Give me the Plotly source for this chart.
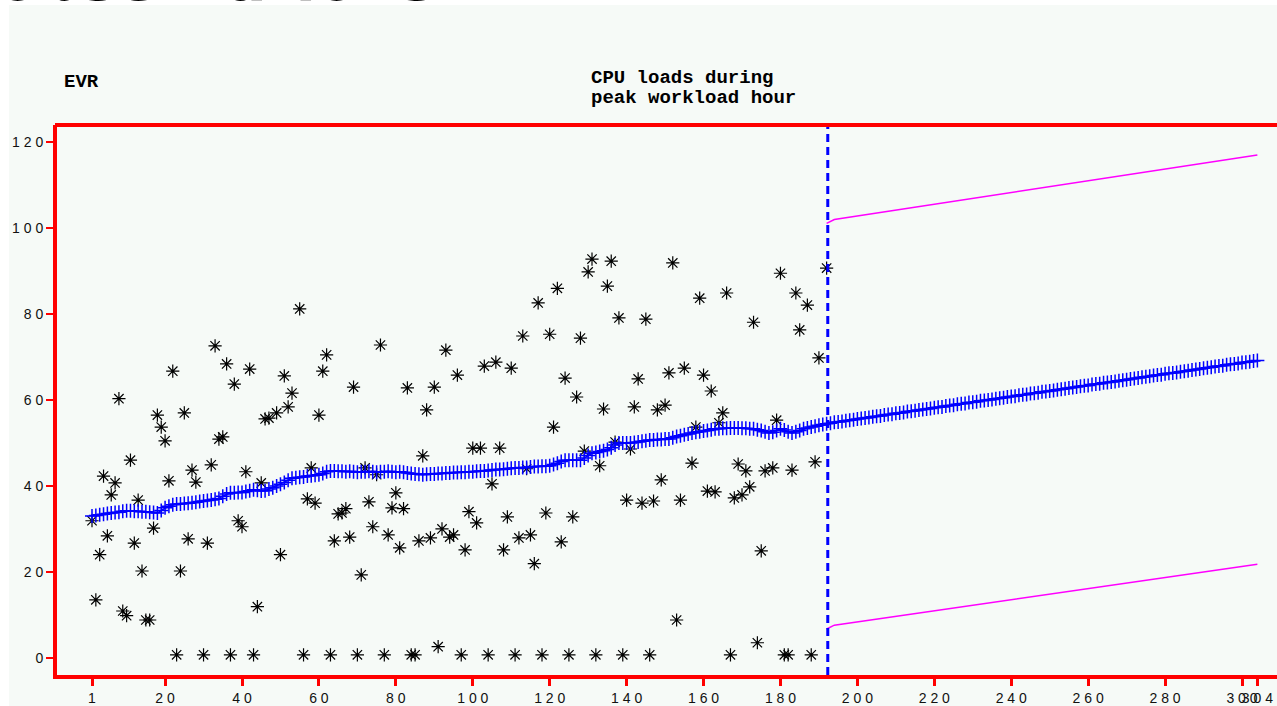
import plotly.graph_objects as go

# ---------------- data ----------------
obs_time = [1,2,3,4,5,6,7,8,9,10,11,12,13,14,15,16,17,18,19,20,21,22,23,24,25,26,27,28,30,31,
            32,33,34,35,36,37,38,39,40,41,42,43,44,45,46,47,49,50,51,52,53,55,56,57,58,59,60,61,
            62,63,64,65,66,67,68,69,70,71,72,73,74,75,76,77,78,79,80,81,82,83,84,85,86,87,88,89,
            90,91,92,93,94,95,96,97,98,99,100,101,102,103,104,105,106,107,108,109,110,111,112,113,
            114,115,116,117,118,119,120,121,122,123,124,125,126,127,128,129,130,131,132,133,134,
            135,136,137,138,139,140,141,142,143,144,145,146,147,148,149,150,151,152,153,154,155,
            157,158,159,160,161,162,163,164,165,166,167,168,169,170,171,172,173,174,175,176,178,
            179,180,181,182,183,184,185,187,188,189,190,192]
obs_cpu = [31.9,13.5,24.0,42.3,28.4,37.9,40.7,60.3,10.9,9.8,46.0,26.7,36.7,20.2,8.8,8.8,30.2,56.5,53.7,50.5,
           41.2,66.7,0.7,20.2,57.0,27.7,43.7,40.9,0.7,26.7,
           44.9,72.6,50.9,51.4,68.4,0.7,63.7,31.9,30.5,43.3,67.2,0.7,11.9,40.7,55.6,55.8,57.0,24.0,65.6,58.4,
           61.6,81.2,0.7,37.0,44.2,36.0,56.5,66.7,
           70.5,0.7,27.2,33.5,33.7,34.7,28.1,63.0,0.7,19.3,44.2,36.3,30.5,42.6,72.8,0.7,28.6,34.9,38.4,25.6,
           34.7,62.8,0.7,0.7,27.2,47.0,57.7,27.9,
           63.0,2.6,30.0,71.6,28.1,28.6,65.8,0.7,25.1,34.0,48.8,31.4,48.8,67.9,0.7,40.5,68.8,48.8,25.1,32.8,
           67.4,0.7,27.9,74.9,
           44.0,28.6,21.9,82.6,0.7,33.7,75.3,53.7,86.0,27.0,65.1,0.7,32.8,60.7,74.4,48.1,89.8,92.8,0.7,44.7,57.9,
           86.5,92.3,50.2,79.1,0.7,36.7,48.6,58.4,64.9,36.0,78.8,0.7,36.5,57.7,41.4,58.8,66.3,91.9,8.8,36.7,67.4,
           45.3,53.7,83.7,65.8,38.8,62.1,38.6,54.7,57.0,84.9,0.7,37.2,45.1,37.9,43.5,39.8,78.1,3.5,24.9,43.5,44.2,
           55.3,89.5,0.7,0.7,43.7,84.9,76.3,82.1,0.7,45.6,69.8,90.7]

fit_hist = [33.0,33.1,33.3,33.4,33.6,33.7,33.8,33.9,34.1,34.2,
            34.2,34.1,34.1,34.0,34.0,33.9,33.8,33.7,34.3,34.9,
            35.3,35.6,35.8,35.8,35.9,36.0,36.1,36.2,36.4,36.5,
            36.6,36.7,36.9,37.1,37.6,38.1,38.4,38.4,38.5,38.5,
            38.7,38.9,39.1,39.0,38.8,38.9,39.3,39.6,40.0,40.4,
            40.8,41.3,41.8,41.9,42.0,42.1,42.3,42.4,42.5,42.6,
            42.9,43.3,43.5,43.5,43.4,43.4,43.3,43.4,43.3,43.2,
            43.3,43.3,43.4,43.3,43.2,43.3,43.3,43.4,43.3,43.2,
            43.3,43.2,43.0,42.9,42.8,42.7,42.6,42.7,42.8,42.8,
            42.9,42.9,43.0,43.0,43.1,43.1,43.2,43.2,43.3,43.3,
            43.4,43.5,43.5,43.6,43.7,43.8,43.8,43.9,44.0,44.1,
            44.2,44.2,44.3,44.3,44.4,44.5,44.5,44.6,44.6,44.7,
            45.0,45.3,45.7,46.0,46.0,46.0,46.0,46.0,46.5,47.1,
            47.6,47.8,48.0,48.2,48.5,48.9,49.5,50.0,50.0,50.0,
            50.0,50.1,50.2,50.4,50.5,50.7,50.7,50.8,50.8,50.9,
            50.9,51.2,51.5,51.7,51.9,52.1,52.3,52.5,52.6,52.8,
            52.9,53.1,53.3,53.3,53.4,53.4,53.5,53.5,53.5,53.4,
            53.4,53.3,53.3,53.1,52.9,52.6,52.3,52.5,52.9,53.3,
            53.0,52.6,52.3,52.6,52.9,53.3,53.5,53.7,53.9,54.1,
            54.3,54.5]
fit_fore = [54.6,54.8,54.9,55.0,55.2,55.3,55.4,55.6,55.7,55.8,
            55.9,56.1,56.2,56.3,56.5,56.6,56.7,56.9,57.0,57.1,
            57.3,57.4,57.5,57.7,57.8,57.9,58.0,58.2,58.3,58.4,
            58.6,58.7,58.8,59.0,59.1,59.2,59.4,59.5,59.6,59.8,
            59.9,60.0,60.1,60.3,60.4,60.5,60.7,60.8,60.9,61.1,
            61.2,61.3,61.5,61.6,61.7,61.9,62.0,62.1,62.2,62.4,
            62.5,62.6,62.8,62.9,63.0,63.2,63.3,63.4,63.6,63.7,
            63.8,64.0,64.1,64.2,64.3,64.5,64.6,64.7,64.9,65.0,
            65.1,65.3,65.4,65.5,65.7,65.8,65.9,66.1,66.2,66.3,
            66.4,66.6,66.7,66.8,67.0,67.1,67.2,67.4,67.5,67.6,
            67.8,67.9,68.0,68.2,68.3,68.4,68.5,68.7,68.8,68.9,
            69.1,69.2]
fit_time = list(range(1, len(fit_hist) + len(fit_fore) + 1))
fit_cpu = fit_hist + fit_fore

limit_time = [192, 194, 304]
upper_cpu = [101.1, 102.0, 117.0]
lower_cpu = [6.7, 7.6, 21.8]

forecast_start = 192.3

x_tickvals = [1, 20, 40, 60, 80, 100, 120, 140, 160, 180, 200, 220, 240, 260, 280, 300, 304]
x_ticktext = ["1", "2 0", "4 0", "6 0", "8 0", "1 0 0", "1 2 0", "1 4 0", "1 6 0", "1 8 0",
              "2 0 0", "2 2 0", "2 4 0", "2 6 0", "2 8 0", "3 0 0", "3 0 4"]
y_tickvals = [0, 20, 40, 60, 80, 100, 120]
y_ticktext = ["0", "2 0", "4 0", "6 0", "8 0", "1 0 0", "1 2 0"]

# ---------------- figure ----------------
W, H = 1277, 706
ML, MR, MT, MB = 57, 0, 125, 31
PW, PH = W - ML - MR, H - MT - MB
BG = "#f6faf7"
RED = "#ff0000"


def px_x(p):
    return (p - ML) / PW


def px_y(p):
    return (H - MB - p) / PH


fig = go.Figure()

fig.add_trace(go.Scatter(
    x=obs_time, y=obs_cpu, mode="markers",
    marker=dict(symbol="asterisk-open", size=11, color="black",
                line=dict(color="black", width=1.2)),
    hoverinfo="skip", showlegend=False))

fig.add_trace(go.Scatter(
    x=limit_time, y=upper_cpu, mode="lines",
    line=dict(color="#ff00ff", width=1.5), hoverinfo="skip", showlegend=False))
fig.add_trace(go.Scatter(
    x=limit_time, y=lower_cpu, mode="lines",
    line=dict(color="#ff00ff", width=1.5), hoverinfo="skip", showlegend=False))

fig.add_trace(go.Scatter(
    x=fit_time, y=fit_cpu, mode="lines+markers",
    line=dict(color="#0000ff", width=1.5),
    marker=dict(symbol="cross-thin", size=10, color="#0000ff",
                line=dict(color="#0000ff", width=1.5)),
    hoverinfo="skip", showlegend=False))

# pale slide background
fig.add_shape(type="rect", xref="paper", yref="paper",
              x0=px_x(9), x1=px_x(W + 5), y0=px_y(H + 5), y1=px_y(5),
              fillcolor=BG, line=dict(width=0), layer="below")

# forecast boundary
fig.add_shape(type="line", xref="x", yref="paper",
              x0=forecast_start, x1=forecast_start, y0=0, y1=1,
              line=dict(color="#0000ff", width=3, dash="8px,5px"))

# top frame line
fig.add_shape(type="line", xref="paper", yref="paper",
              x0=px_x(55), x1=1.01, y0=1, y1=1,
              line=dict(color=RED, width=4))

title_font = dict(family="Liberation Mono", size=19, color="black")
fig.add_annotation(text="<b>EVR</b>", xref="paper", yref="paper",
                   x=px_x(62), y=px_y(82), xanchor="left", yanchor="middle",
                   showarrow=False, font=title_font)
fig.add_annotation(text="<b>CPU loads during</b>", xref="paper", yref="paper",
                   x=px_x(589), y=px_y(78), xanchor="left", yanchor="middle",
                   showarrow=False, font=title_font)
fig.add_annotation(text="<b>peak workload hour</b>", xref="paper", yref="paper",
                   x=px_x(589), y=px_y(98), xanchor="left", yanchor="middle",
                   showarrow=False, font=title_font)
# slide title, cut off at the top edge
fig.add_annotation(text="<b>observations</b>", xref="paper", yref="paper",
                   x=px_x(-5), y=px_y(16), xanchor="left", yanchor="bottom",
                   showarrow=False,
                   font=dict(family="DejaVu Sans", size=60, color="black"))

tick_font = dict(family="Liberation Sans", size=14, color="#111111")

fig.update_layout(
    width=W, height=H, autosize=False,
    margin=dict(l=ML, r=MR, t=MT, b=MB, pad=0),
    paper_bgcolor="white", plot_bgcolor=BG,
    showlegend=False,
    xaxis=dict(range=[-8.1, 309.1], showgrid=False, zeroline=False,
               showline=True, linecolor=RED, linewidth=4,
               ticks="outside", ticklen=7, tickwidth=3, tickcolor=RED,
               tickvals=x_tickvals, ticktext=x_ticktext, tickangle=0,
               tickfont=tick_font),
    yaxis=dict(range=[-4, 124], showgrid=False, zeroline=False,
               showline=True, linecolor=RED, linewidth=4,
               ticks="outside", ticklen=7, tickwidth=2, tickcolor=RED,
               tickvals=y_tickvals, ticktext=y_ticktext,
               tickfont=tick_font),
)

fig.write_html("out.html",
               config={"displayModeBar": False},
               post_script="document.body.style.margin='0px';"
                           "document.body.style.overflow='hidden';")
